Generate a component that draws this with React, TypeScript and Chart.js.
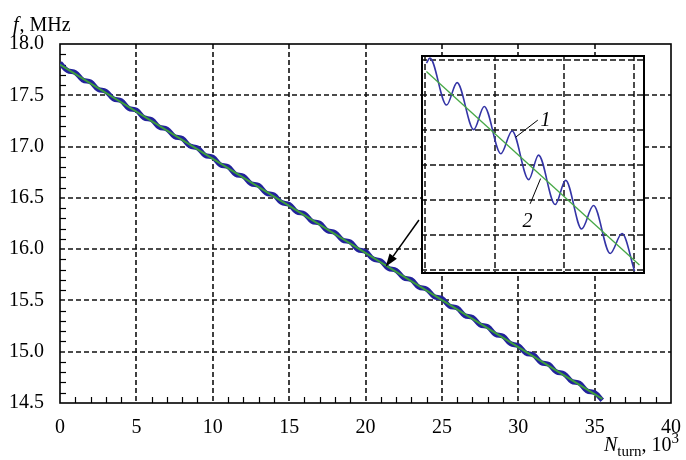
import React, { useEffect, useRef } from 'react';
import { Chart, registerables } from 'chart.js';

Chart.register(...registerables);

// ---- main chart data (turns in 10^3, frequency in MHz) ----
const turns = [
  0, 0.5, 1, 1.5, 2, 2.5, 3, 3.5, 4, 4.5, 5, 5.5, 6, 6.5, 7, 7.5, 8, 8.5, 9, 9.5,
  10, 10.5, 11, 11.5, 12, 12.5, 13, 13.5, 14, 14.5, 15, 15.5, 16, 16.5, 17, 17.5,
  18, 18.5, 19, 19.5, 20, 20.5, 21, 21.5, 22, 22.5, 23, 23.5, 24, 24.5, 25, 25.5,
  26, 26.5, 27, 27.5, 28, 28.5, 29, 29.5, 30, 30.5, 31, 31.5, 32, 32.5, 33, 33.5,
  34, 34.5, 35, 35.5,
];
const freq = [
  17.814, 17.740, 17.722, 17.648, 17.630, 17.557, 17.539, 17.465, 17.447, 17.373,
  17.355, 17.281, 17.263, 17.189, 17.171, 17.098, 17.080, 17.006, 16.988, 16.914,
  16.896, 16.822, 16.804, 16.730, 16.712, 16.639, 16.621, 16.547, 16.529, 16.455,
  16.437, 16.363, 16.345, 16.271, 16.253, 16.180, 16.162, 16.088, 16.070, 15.996,
  15.978, 15.904, 15.886, 15.812, 15.794, 15.721, 15.703, 15.629, 15.611, 15.537,
  15.519, 15.445, 15.427, 15.353, 15.335, 15.262, 15.244, 15.170, 15.152, 15.078,
  15.060, 14.986, 14.968, 14.894, 14.876, 14.803, 14.785, 14.711, 14.693, 14.619,
  14.601, 14.527,
];
const fitTurns = [0, 35.5];
const fitFreq = [17.8, 14.541];
const xTicks = [0, 5, 10, 15, 20, 25, 30, 35, 40];
const yTicks = [14.5, 15.0, 15.5, 16.0, 16.5, 17.0, 17.5, 18.0];

// ---- inset data (magnified segment, arbitrary units) ----
const insetX = [0.02, 0.07, 0.31, 0.46, 0.70, 0.85, 1.09, 1.25, 1.49, 1.63, 1.87, 2.02, 2.25, 2.42, 2.66, 2.83, 3.01];
const insetY = [5.91, 6.05, 4.71, 5.35, 4.01, 4.67, 3.32, 3.97, 2.58, 3.28, 1.87, 2.56, 1.17, 1.84, 0.47, 1.04, -0.03];
const insetFitX = [0.02, 3.08];
const insetFitY = [5.67, 0.14];
const insetGridX = [0, 1, 2, 3];
const insetGridY = [0, 1, 2, 3, 4, 5, 6];

const SERIF = "'Liberation Serif', 'DejaVu Serif', serif";

const mainDecor = {
  id: 'mainDecor',
  beforeDraw(chart: any) {
    const { ctx } = chart;
    ctx.save();
    ctx.fillStyle = '#fff';
    ctx.fillRect(0, 0, chart.width, chart.height);
    ctx.restore();
  },
  beforeDatasetsDraw(chart: any) {
    const { ctx, chartArea: a, scales } = chart;
    const x = scales.x, y = scales.y;
    ctx.save();
    ctx.strokeStyle = '#111';
    ctx.lineWidth = 1.6;
    ctx.setLineDash([5, 3]);
    for (const v of xTicks) {
      if (v <= x.min || v >= x.max) continue;
      const px = Math.round(x.getPixelForValue(v));
      ctx.beginPath(); ctx.moveTo(px, a.top); ctx.lineTo(px, a.bottom); ctx.stroke();
    }
    for (const v of yTicks) {
      if (v <= y.min || v >= y.max) continue;
      const py = Math.round(y.getPixelForValue(v));
      ctx.beginPath(); ctx.moveTo(a.left, py); ctx.lineTo(a.right, py); ctx.stroke();
    }
    ctx.setLineDash([]);
    ctx.lineWidth = 1.2;
    ctx.strokeStyle = '#000';
    for (let i = 1; i < 40; i++) {
      if (i % 5 === 0) continue;
      const px = Math.round(x.getPixelForValue(i)) + 0.5;
      ctx.beginPath(); ctx.moveTo(px, a.bottom); ctx.lineTo(px, a.bottom - 6); ctx.stroke();
    }
    for (let i = 146; i < 180; i++) {
      if (i % 5 === 0) continue;
      const py = Math.round(y.getPixelForValue(i / 10)) + 0.5;
      ctx.beginPath(); ctx.moveTo(a.left, py); ctx.lineTo(a.left + 6, py); ctx.stroke();
    }
    ctx.lineWidth = 1.6;
    ctx.strokeRect(a.left, a.top, a.right - a.left, a.bottom - a.top);
    ctx.restore();
  },
  afterDraw(chart: any) {
    const { ctx, scales } = chart;
    const x = scales.x, y = scales.y;
    ctx.save();
    // arrow pointing from inset to curve
    const x0 = x.getPixelForValue(23.5), y0 = y.getPixelForValue(16.284);
    const x1 = x.getPixelForValue(21.32), y1 = y.getPixelForValue(15.829);
    const ang = Math.atan2(y1 - y0, x1 - x0);
    const hl = 13, hw = 4.5;
    const bx = x1 - hl * Math.cos(ang), by = y1 - hl * Math.sin(ang);
    ctx.strokeStyle = '#000'; ctx.fillStyle = '#000'; ctx.lineWidth = 1.5;
    ctx.beginPath(); ctx.moveTo(x0, y0); ctx.lineTo(bx, by); ctx.stroke();
    ctx.beginPath();
    ctx.moveTo(x1, y1);
    ctx.lineTo(bx + hw * Math.sin(ang), by - hw * Math.cos(ang));
    ctx.lineTo(bx - hw * Math.sin(ang), by + hw * Math.cos(ang));
    ctx.closePath(); ctx.fill();

    // axis titles
    ctx.fillStyle = '#000';
    ctx.textBaseline = 'alphabetic';
    ctx.textAlign = 'left';
    let cx = 13;
    ctx.font = `italic 20px ${SERIF}`;
    ctx.fillText('f', cx, 31);
    cx += ctx.measureText('f').width + 1;
    ctx.font = `20px ${SERIF}`;
    ctx.fillText(', MHz', cx, 31);

    cx = 604;
    const by2 = 451;
    ctx.font = `italic 20px ${SERIF}`;
    ctx.fillText('N', cx, by2);
    cx += ctx.measureText('N').width;
    ctx.font = `15px ${SERIF}`;
    ctx.fillText('turn', cx, by2 + 5);
    cx += ctx.measureText('turn').width;
    ctx.font = `20px ${SERIF}`;
    ctx.fillText(', 10', cx, by2);
    cx += ctx.measureText(', 10').width;
    ctx.font = `15px ${SERIF}`;
    ctx.fillText('3', cx, by2 - 8);
    ctx.restore();
  },
};

const insetDecor = {
  id: 'insetDecor',
  beforeDraw(chart: any) {
    const { ctx } = chart;
    ctx.save();
    ctx.fillStyle = '#fff';
    ctx.fillRect(0, 0, chart.width, chart.height);
    ctx.restore();
  },
  beforeDatasetsDraw(chart: any) {
    const { ctx, chartArea: a, scales } = chart;
    const x = scales.x, y = scales.y;
    ctx.save();
    ctx.strokeStyle = '#111';
    ctx.lineWidth = 1.5;
    ctx.setLineDash([6, 3]);
    for (const v of insetGridX) {
      const px = Math.round(x.getPixelForValue(v));
      ctx.beginPath(); ctx.moveTo(px, a.top); ctx.lineTo(px, a.bottom); ctx.stroke();
    }
    for (const v of insetGridY) {
      const py = Math.round(y.getPixelForValue(v));
      ctx.beginPath(); ctx.moveTo(a.left, py); ctx.lineTo(a.right, py); ctx.stroke();
    }
    ctx.restore();
  },
  afterDatasetsDraw(chart: any) {
    const { ctx, scales } = chart;
    const x = scales.x, y = scales.y;
    ctx.save();
    ctx.strokeStyle = '#000';
    ctx.lineWidth = 1;
    ctx.beginPath();
    ctx.moveTo(x.getPixelForValue(1.62), y.getPixelForValue(4.28));
    ctx.lineTo(x.getPixelForValue(1.30), y.getPixelForValue(3.79));
    ctx.stroke();
    ctx.beginPath();
    ctx.moveTo(x.getPixelForValue(1.51), y.getPixelForValue(1.89));
    ctx.lineTo(x.getPixelForValue(1.66), y.getPixelForValue(2.61));
    ctx.stroke();
    ctx.fillStyle = '#000';
    ctx.font = `italic 20px ${SERIF}`;
    ctx.textAlign = 'left';
    ctx.textBaseline = 'alphabetic';
    ctx.fillText('1', x.getPixelForValue(1.66), y.getPixelForValue(4.12));
    ctx.fillText('2', x.getPixelForValue(1.40), y.getPixelForValue(1.24));
    // frame
    ctx.lineWidth = 2;
    ctx.strokeRect(1, 1, chart.width - 2, chart.height - 2);
    ctx.restore();
  },
};

export default function App() {
  const mainRef = useRef<HTMLCanvasElement>(null);
  const insetRef = useRef<HTMLCanvasElement>(null);

  useEffect(() => {
    const tickFont = { family: SERIF, size: 20 };
    const main = new Chart(mainRef.current as HTMLCanvasElement, {
      type: 'line',
      data: {
        datasets: [
          {
            data: fitTurns.map((t, i) => ({ x: t, y: fitFreq[i] })),
            borderColor: '#3c9e3c',
            borderWidth: 2,
            pointRadius: 0,
            order: 0,
          },
          {
            data: turns.map((t, i) => ({ x: t, y: freq[i] })),
            borderColor: '#22229c',
            borderWidth: 5,
            pointRadius: 0,
            tension: 0.4,
            order: 1,
          },
        ],
      },
      options: {
        responsive: false,
        animation: false,
        devicePixelRatio: 1,
        layout: { padding: { left: 0, top: 44, right: 12, bottom: 0 } },
        plugins: { legend: { display: false }, tooltip: { enabled: false } },
        scales: {
          x: {
            type: 'linear',
            min: 0,
            max: 40,
            grid: { display: false },
            border: { display: false },
            afterBuildTicks: (s: any) => { s.ticks = xTicks.map((v) => ({ value: v })); },
            afterFit: (s: any) => { s.height = 57; },
            ticks: { font: tickFont, color: '#000', padding: 5, maxRotation: 0, autoSkip: false },
          },
          y: {
            type: 'linear',
            min: 14.5,
            max: 18,
            grid: { display: false },
            border: { display: false },
            afterBuildTicks: (s: any) => { s.ticks = yTicks.map((v) => ({ value: v })); },
            afterFit: (s: any) => { s.width = 60; },
            ticks: {
              font: tickFont,
              color: '#000',
              padding: 8,
              autoSkip: false,
              callback: (v: any) => Number(v).toFixed(1),
            },
          },
        },
      },
      plugins: [mainDecor],
    } as any);

    const inset = new Chart(insetRef.current as HTMLCanvasElement, {
      type: 'line',
      data: {
        datasets: [
          {
            data: insetFitX.map((t, i) => ({ x: t, y: insetFitY[i] })),
            borderColor: '#46a846',
            borderWidth: 1.3,
            pointRadius: 0,
            order: 0,
          },
          {
            data: insetX.map((t, i) => ({ x: t, y: insetY[i] })),
            borderColor: '#3434a6',
            borderWidth: 1.6,
            pointRadius: 0,
            cubicInterpolationMode: 'monotone',
            order: 1,
          },
        ],
      },
      options: {
        responsive: false,
        animation: false,
        devicePixelRatio: 1,
        layout: { padding: 0 },
        plugins: { legend: { display: false }, tooltip: { enabled: false } },
        scales: {
          x: { type: 'linear', min: -0.058, max: 3.16, display: false },
          y: { type: 'linear', min: -0.115, max: 6.14, display: false },
        },
      },
      plugins: [insetDecor],
    } as any);

    return () => {
      main.destroy();
      inset.destroy();
    };
  }, []);

  return (
    <div style={{ position: 'absolute', left: 0, top: 0, width: 686, height: 460, background: '#fff' }}>
      <canvas ref={mainRef} width={686} height={460} style={{ position: 'absolute', left: 0, top: 0 }} />
      <canvas ref={insetRef} width={224} height={219} style={{ position: 'absolute', left: 421, top: 55 }} />
    </div>
  );
}
